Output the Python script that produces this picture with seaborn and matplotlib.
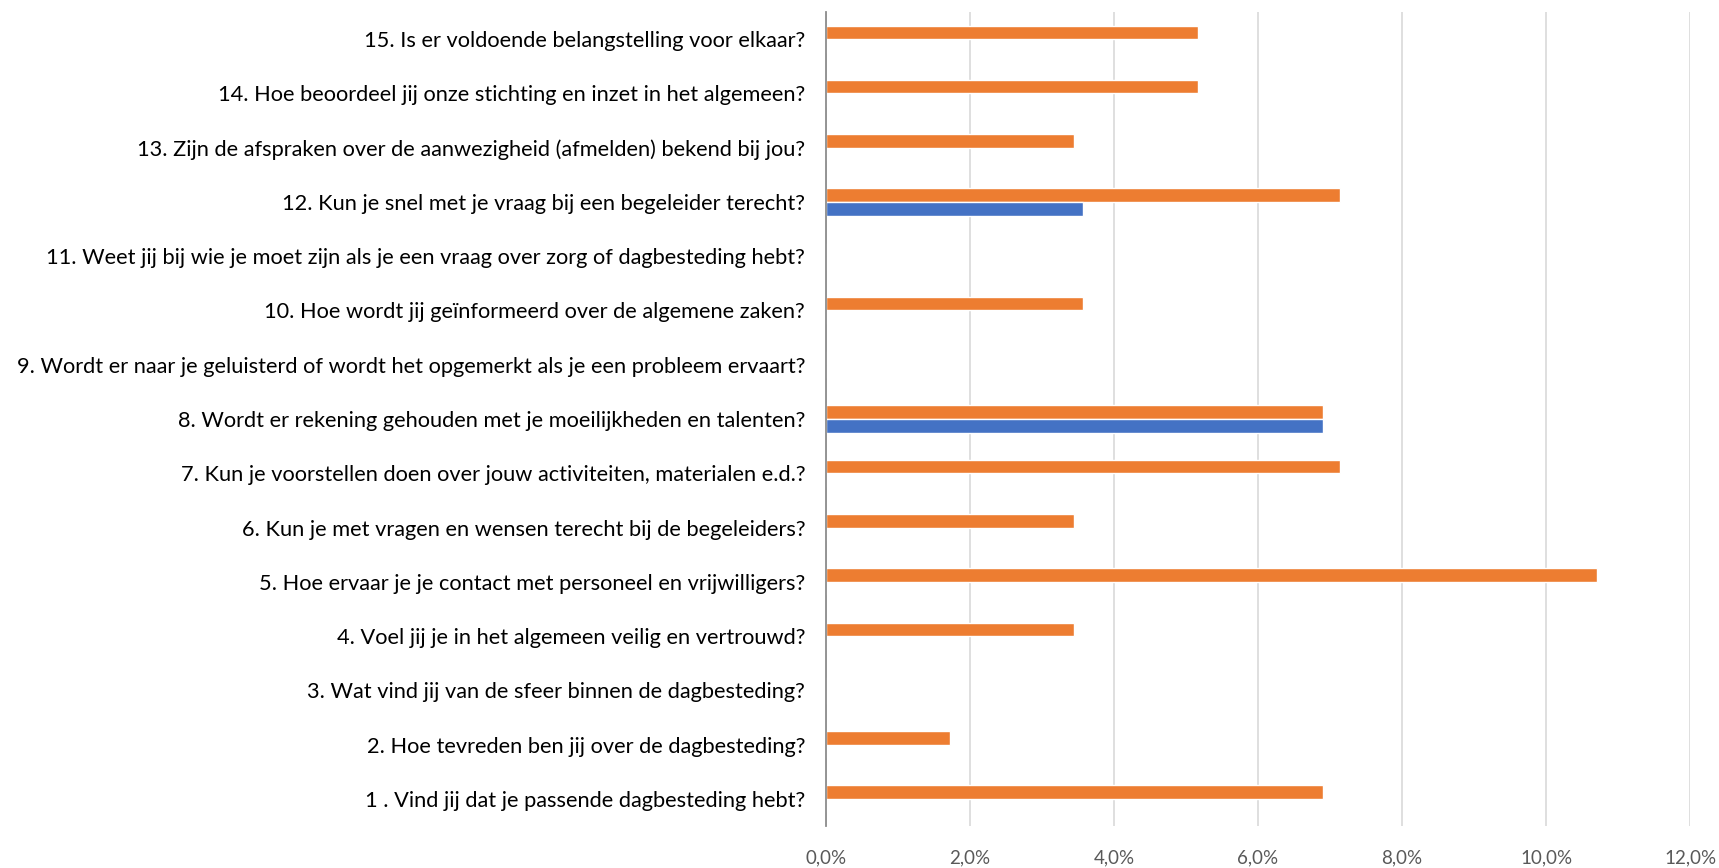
import matplotlib
matplotlib.use("Agg")
import matplotlib.pyplot as plt
from matplotlib.ticker import FuncFormatter
import seaborn as sns
import pandas as pd

# questions, from 1 (bottom) to 15 (top)
questions = [
    "1 . Vind jij dat je passende dagbesteding hebt?",
    "2. Hoe tevreden ben jij over de dagbesteding?",
    "3. Wat vind jij van de sfeer binnen de dagbesteding?",
    "4. Voel jij je in het algemeen veilig en vertrouwd?",
    "5. Hoe ervaar je je contact met personeel en vrijwilligers?",
    "6. Kun je met vragen en wensen terecht bij de begeleiders?",
    "7. Kun je voorstellen doen over jouw activiteiten, materialen e.d.?",
    "8. Wordt er rekening gehouden met je moeilijkheden en talenten?",
    "9. Wordt er naar je geluisterd of wordt het opgemerkt als je een probleem ervaart?",
    "10. Hoe wordt jij geïnformeerd over de algemene zaken?",
    "11. Weet jij bij wie je moet zijn als je een vraag over zorg of dagbesteding hebt?",
    "12. Kun je snel met je vraag bij een begeleider terecht?",
    "13. Zijn de afspraken over de aanwezigheid (afmelden) bekend bij jou?",
    "14. Hoe beoordeel jij onze stichting en inzet in het algemeen?",
    "15. Is er voldoende belangstelling voor elkaar?",
]
# blue series
reeks1 = [0, 0, 0, 0, 0, 0, 0, 0.069, 0, 0, 0, 0.0357, 0, 0, 0]
# orange series
reeks2 = [0.069, 0.0172, 0, 0.0345, 0.1071, 0.0345, 0.0714, 0.069, 0, 0.0357,
          0, 0.0714, 0.0345, 0.0517, 0.0517]

df = pd.concat([
    pd.DataFrame({"vraag": questions, "waarde": reeks1, "reeks": "Reeks1"}),
    pd.DataFrame({"vraag": questions, "waarde": reeks2, "reeks": "Reeks2"}),
])

sns.set_style("white")
plt.rcParams["font.family"] = ["Lato", "DejaVu Sans"]

fig = plt.figure(figsize=(17.19, 8.68), dpi=100)
ax = fig.add_axes([826 / 1719, 1 - 826 / 868, (1690 - 826) / 1719, (826 - 12) / 868])

sns.barplot(data=df, x="waarde", y="vraag", hue="reeks",
            order=questions[::-1], hue_order=["Reeks2", "Reeks1"],
            palette={"Reeks1": "#4472C4", "Reeks2": "#ED7D31"},
            saturation=1, width=0.5, gap=0, orient="h", legend=False, ax=ax)

ax.set_xlim(0, 0.12)
ax.set_xticks([0, 0.02, 0.04, 0.06, 0.08, 0.10, 0.12])
ax.xaxis.set_major_formatter(FuncFormatter(lambda v, p: f"{v * 100:.1f}%".replace(".", ",")))
ax.set_xlabel("")
ax.set_ylabel("")
ax.grid(axis="x", color="#D9D9D9", linewidth=1.2)
ax.set_axisbelow(True)
for s in ["top", "right", "bottom"]:
    ax.spines[s].set_visible(False)
ax.spines["left"].set_color("#8C8C8C")
ax.spines["left"].set_linewidth(1.3)
ax.tick_params(axis="y", length=0, pad=15, labelsize=15.7, labelcolor="#000000")
ax.tick_params(axis="x", length=0, pad=17, labelsize=13.5, labelcolor="#595959")

fig.savefig("out.png", dpi=100)
